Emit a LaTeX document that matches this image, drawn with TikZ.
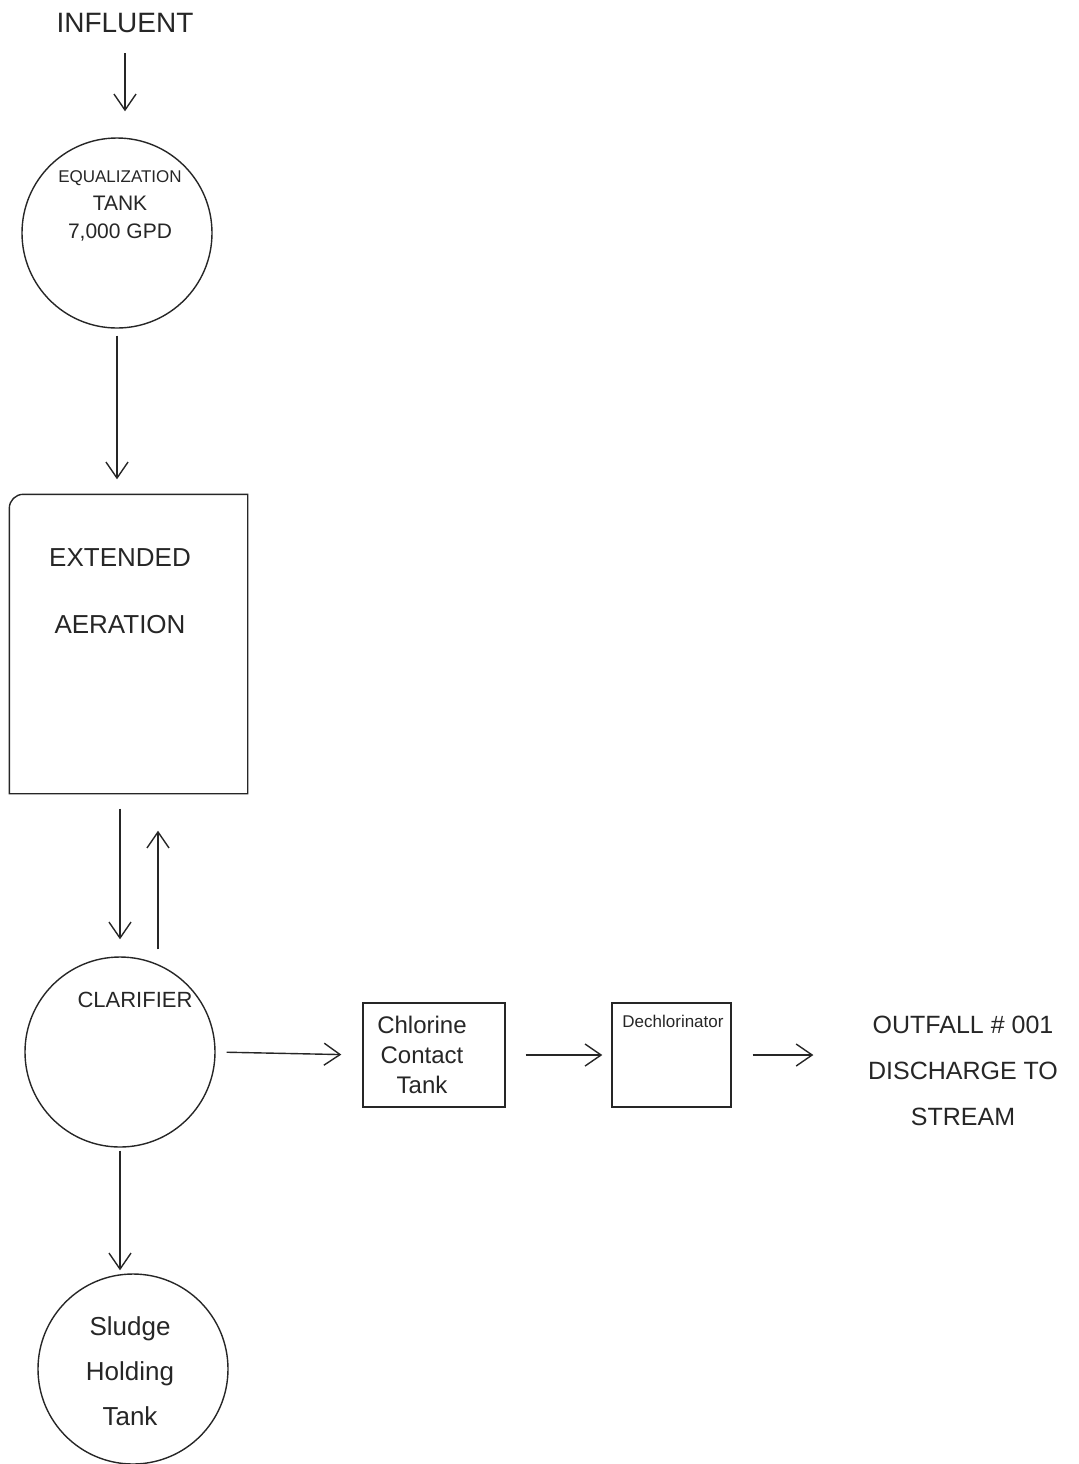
\documentclass[tikz,border=0pt]{standalone}
\usepackage{fontspec}
\setmainfont{Liberation Sans}
\usetikzlibrary{arrows.meta,calc}
\begin{document}
\begin{tikzpicture}[x=0.5pt,y=-0.5pt,
  line width=0.7pt, color=black!85,
  tank/.style={circle,draw,minimum size=95pt,inner sep=0pt},
  boxnode/.style={rectangle,draw,inner sep=0pt},
  lbl/.style={align=center,inner sep=0pt},
  arr/.style={-{Straight Barb[length=8pt,width=11pt]}}]
\useasboundingbox (0,0) rectangle (1079,1464);

% nodes
\node[lbl,font=\fontsize{14}{16}\selectfont] (infl) at (125,23) {INFLUENT};
\node[tank] (eq) at (117,233) {};
\node[lbl,font=\fontsize{10.5}{14}\selectfont] (eqtxt) at (120,206) {{\fontsize{8.5}{14}\selectfont EQUALIZATION}\\TANK\\7,000 GPD};

\node[rectangle,inner sep=0pt,minimum width=118.5pt,minimum height=149pt] (aer) at (128.5,644) {};
\draw (aer.south west) -- ([yshift=-7pt]aer.north west) to[out=90,in=180] ([xshift=7pt]aer.north west)
  -- (aer.north east) -- (aer.south east) -- cycle;
\node[lbl,font=\fontsize{13}{33.5}\selectfont] (aertxt) at (120,591) {EXTENDED\\AERATION};

\node[tank] (clar) at (120,1052) {};
\node[lbl,font=\fontsize{11}{13}\selectfont] (clartxt) at (135,1000) {CLARIFIER};

\node[boxnode,minimum width=71pt,minimum height=52pt] (chl) at (434,1055) {};
\node[lbl,font=\fontsize{12}{15}\selectfont] (chltxt) at (422,1055) {Chlorine\\Contact\\Tank};

\node[boxnode,minimum width=59.5pt,minimum height=52pt] (dech) at (671.5,1055) {};
\node[lbl,font=\fontsize{8.5}{10}\selectfont] (dechtxt) at (673,1021) {Dechlorinator};

\node[lbl,font=\fontsize{12.5}{23}\selectfont] (out) at (963,1071) {OUTFALL \# 001\\DISCHARGE TO\\STREAM};

\node[tank] (sl) at (133,1369) {};
\node[lbl,font=\fontsize{13}{22.5}\selectfont] (sltxt) at (130,1371) {Sludge\\Holding\\Tank};

% connectors
\draw[arr,shorten <=10pt,shorten >=13pt] (infl.south) -- (infl.south |- eq.north);
\draw[arr,shorten <=3.5pt,shorten >=7.5pt] (eq.south) -- (eq.south |- aer.north);

\coordinate (d1) at ($(aer.south)+(-8.5,0)$);
\draw[arr,shorten <=7.5pt,shorten >=8.5pt] (d1) -- (d1 |- clar.north);
\coordinate (u1) at ($(clar.north)+(38,-7)$);
\coordinate (u2) at ($(aer.south)+(29.5,37)$);
\draw[arr] (u1) -- (u2);

\draw[arr,shorten <=5.5pt,shorten >=10.5pt] (clar.east) -- (chl.west);
\draw[arr,shorten <=10pt,shorten >=4.5pt] (chl.east) -- (dech.west);
\draw[arr,shorten <=10.5pt,shorten >=27pt] (dech.east) -- (dech.east -| out.west);
\draw[arr,shorten <=1.5pt,shorten >=1.5pt] (clar.south) -- (clar.south |- sl.north);
\end{tikzpicture}
\end{document}
